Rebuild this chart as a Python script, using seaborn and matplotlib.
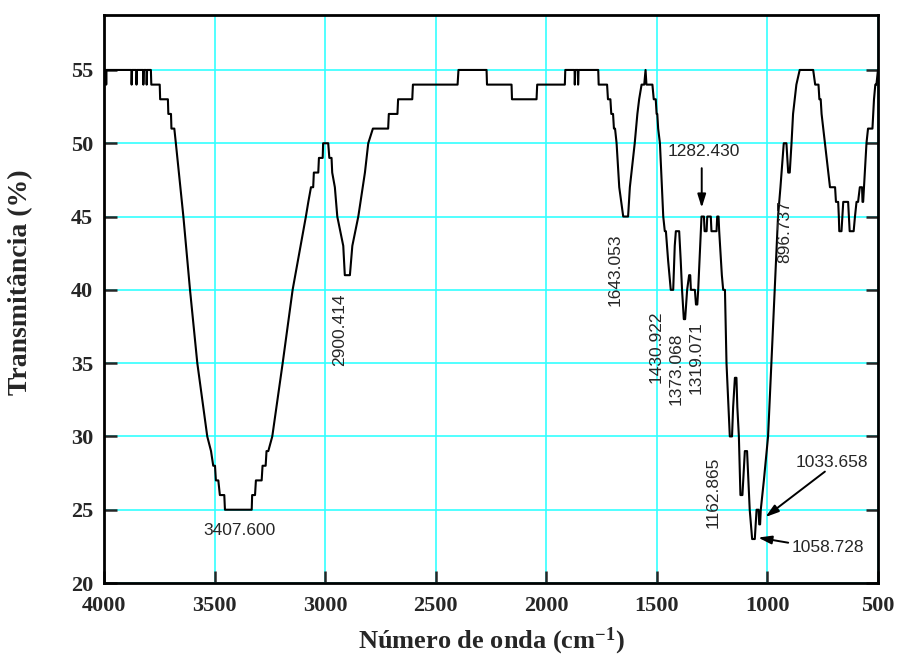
import matplotlib
matplotlib.use("Agg")
import matplotlib.pyplot as plt
import seaborn as sns
import pandas as pd

# ---- data ----
wavenumber = [3997, 3996, 3991, 3990, 3989,
              3876, 3875, 3873, 3854, 3853, 3851, 3823, 3822, 3820, 3808, 3807, 3805,
              3788, 3786, 3748, 3746, 3711, 3709, 3697, 3695, 3682, 3675,
              3641, 3611, 3578, 3533, 3516, 3506, 3498, 3494, 3483, 3476, 3456, 3453,
              3332, 3330, 3317, 3313, 3287, 3283, 3269, 3265, 3257, 3239, 3192, 3147,
              3087, 3076, 3064, 3054, 3051, 3031, 3028, 3011, 3009, 2986, 2981, 2971,
              2968, 2956, 2945, 2918, 2911, 2888, 2877, 2850, 2820, 2805, 2784, 2715,
              2712, 2673, 2670, 2606, 2603, 2401, 2397, 2270, 2268, 2157, 2155, 2044,
              2041, 1916, 1914, 1872, 1871, 1869, 1857, 1856, 1854, 1765, 1763, 1725,
              1721, 1710, 1706, 1698, 1694, 1689, 1682, 1670, 1652, 1630, 1622, 1600,
              1588, 1580, 1569, 1557, 1551, 1547, 1520, 1514, 1505, 1501, 1498, 1494,
              1486, 1471, 1464, 1459, 1449, 1437, 1426, 1419, 1414, 1399, 1392, 1386,
              1378, 1372, 1363, 1354, 1349, 1346, 1328, 1323, 1317, 1313, 1298, 1287,
              1284, 1275, 1272, 1256, 1253, 1230, 1227, 1221, 1218, 1206, 1200, 1192,
              1185, 1170, 1160, 1155, 1147, 1140, 1136, 1129, 1122, 1113, 1102, 1092,
              1080, 1069, 1057, 1049, 1040, 1037, 1033, 1030, 1016, 997, 982, 967,
              952, 941, 926, 914, 906, 899, 891, 884, 869, 854, 793, 784,
              769, 765, 759, 755, 740, 725, 717, 694, 690, 680, 677, 675,
              665, 657, 635, 628, 610, 604, 597, 590, 582, 572, 570, 567,
              552, 545, 525, 518, 512, 507, 500]
transmittance = [54, 55, 55, 54, 55,
                 55, 54, 55, 55, 54, 55, 55, 54, 55, 55, 54, 55,
                 55, 54, 54, 53, 53, 52, 52, 51, 51, 50,
                 45, 40, 35, 30, 29, 28, 28, 27, 27, 26, 26, 25,
                 25, 26, 26, 27, 27, 28, 28, 29, 29, 30, 35, 40,
                 45, 46, 47, 47, 48, 48, 49, 49, 50, 50, 49, 49,
                 48, 47, 45, 43, 41, 41, 43, 45, 48, 50, 51, 51,
                 52, 52, 53, 53, 54, 54, 55, 55, 54, 54, 53, 53,
                 54, 54, 55, 55, 54, 55, 55, 54, 55, 55, 54, 54,
                 53, 53, 52, 52, 51, 51, 50, 47, 45, 45, 47, 50,
                 52, 53, 54, 54, 55, 54, 54, 53, 53, 52, 52, 51,
                 50, 45, 44, 44, 42, 40, 40, 43, 44, 44, 42, 40,
                 38, 38, 40, 41, 41, 40, 40, 39, 39, 40, 45, 45,
                 44, 44, 45, 45, 44, 44, 45, 45, 44, 41, 40, 40,
                 35, 30, 30, 32, 34, 34, 32, 30, 26, 26, 29, 29,
                 25, 23, 23, 25, 25, 24, 24, 25, 27, 30, 35, 40,
                 45, 47, 50, 50, 48, 48, 50, 52, 54, 55, 55, 54,
                 54, 53, 53, 52, 50, 48, 47, 47, 46, 46, 45, 44,
                 44, 46, 46, 44, 44, 45, 46, 46, 47, 47, 46, 46,
                 50, 51, 51, 53, 54, 54, 55]

x_ticks = [4000, 3500, 3000, 2500, 2000, 1500, 1000, 500]
y_ticks = [20, 25, 30, 35, 40, 45, 50, 55]

# rotated peak labels: (text, wavenumber, transmittance)
vertical_labels = [("2900.414", 2936, 37.3),
                   ("1643.053", 1690, 41.4),
                   ("1430.922", 1501, 36.1),
                   ("1373.068", 1414, 34.6),
                   ("1319.071", 1324, 35.4),
                   ("1162.865", 1246, 26.2),
                   ("896.737", 921, 44.0)]
flat_label = ("3407.600", 3388, 23.55)
arrow_labels = [("1282.430", (1288, 49.45), (1297, 45.6), (1297, 48.3)),
                ("1033.658", (710, 28.25), (1009, 24.5), (740, 27.6)),
                ("1058.728", (725, 22.45), (1042, 23.1), (906, 22.75))]

# ---- plot ----
sns.set_style("ticks")
plt.rcParams["font.family"] = ["Liberation Serif", "DejaVu Serif"]
plt.rcParams["mathtext.fontset"] = "custom"
plt.rcParams["mathtext.rm"] = "Liberation Serif:bold"
plt.rcParams["mathtext.it"] = "Liberation Serif:bold"
plt.rcParams["mathtext.bf"] = "Liberation Serif:bold"

fig = plt.figure(figsize=(8.98, 6.66), dpi=100)
ax = fig.add_axes([0.1158, 0.1246, 0.8619, 0.8529])

df = pd.DataFrame({"wn": wavenumber, "T": transmittance})
sns.lineplot(data=df, x="wn", y="T", sort=False, estimator=None,
             color="black", lw=1.5, ax=ax, zorder=3)

ax.set_xlim(4000, 500)
ax.set_ylim(20, 58.75)
ax.set_xticks(x_ticks)
ax.set_yticks(y_ticks)
ax.set_xticklabels([str(v) for v in x_ticks])
ax.set_yticklabels([str(v) for v in y_ticks])
ax.grid(True, color="#33ffff", lw=1.2, zorder=0)
ax.set_axisbelow(True)

for s in ax.spines.values():
    s.set_linewidth(2.0)
    s.set_color("black")
    s.set_visible(True)

ax.tick_params(axis="both", direction="in", length=9, width=1.8,
               labelsize=16, pad=7)
ax.tick_params(axis="x", pad=9)
ax.tick_params(axis="y", right=True, labelright=False, pad=8)
for lab in ax.get_xticklabels() + ax.get_yticklabels():
    lab.set_fontweight("bold")

ax.set_xlabel(r"Número de onda (cm$^{-1}$)", fontsize=19, fontweight="bold")
ax.set_ylabel("Transmitância (%)", fontsize=20, fontweight="bold")
ax.xaxis.set_label_coords(0.5, -0.075)
ax.yaxis.set_label_coords(-0.091, 0.53)

afont = dict(family=["Liberation Sans", "DejaVu Sans"], fontsize=12.5)
for txt, x, y in vertical_labels:
    ax.text(x, y, txt, rotation=90, ha="center", va="center", **afont)
ax.text(flat_label[1], flat_label[2], flat_label[0], ha="center", va="center",
        **afont)
for txt, tpos, head, tail in arrow_labels:
    ax.text(tpos[0], tpos[1], txt, ha="center", va="center", **afont)
    ax.annotate("", xy=head, xytext=tail,
                arrowprops=dict(arrowstyle="-|>,head_length=0.8,head_width=0.25",
                                color="black", lw=1.4, shrinkA=0, shrinkB=0))

fig.savefig("out.png", dpi=100)
